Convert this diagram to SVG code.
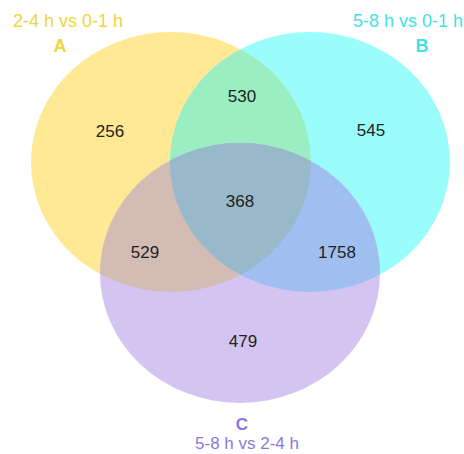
<svg xmlns="http://www.w3.org/2000/svg" width="464" height="454" viewBox="0 0 464 454">
<style>
.n{font-family:"Liberation Sans",Arial,sans-serif;font-size:17px;fill:#222;text-anchor:middle}
.l{font-family:"Liberation Sans",Arial,sans-serif;font-size:18px;text-anchor:middle}
.s{font-size:17px}
.b{font-weight:bold}
</style>
<defs>
<clipPath id="cA"><ellipse cx="171" cy="162" rx="140" ry="130"/></clipPath>
<clipPath id="cB"><ellipse cx="310" cy="162" rx="140" ry="130"/></clipPath>
</defs>
<rect width="464" height="454" fill="#fff"/>
<g id="setA"><ellipse cx="171" cy="162" rx="140" ry="130" fill="#FFE995"/></g>
<g id="setB"><ellipse cx="310" cy="162" rx="140" ry="130" fill="#9BFCFC"/></g>
<g id="setC"><ellipse cx="240" cy="273" rx="140" ry="130" fill="#D4C4F1"/></g>
<g id="AB"><ellipse cx="310" cy="162" rx="140" ry="130" fill="#9BEEC2" clip-path="url(#cA)"/></g>
<g id="AC"><ellipse cx="240" cy="273" rx="140" ry="130" fill="#D3BCB4" clip-path="url(#cA)"/></g>
<g id="BC"><ellipse cx="240" cy="273" rx="140" ry="130" fill="#9EBFEF" clip-path="url(#cB)"/></g>
<g id="ABC" clip-path="url(#cA)"><ellipse cx="240" cy="273" rx="140" ry="130" fill="#97B9C9" clip-path="url(#cB)"/></g>
<g id="connectors"></g>
<g id="labels">
<text class="l" x="68" y="27" fill="#F2D43C">2-4 h vs 0-1 h</text>
<text class="l b" x="60" y="52" fill="#F2D43C">A</text>
<text class="l" x="408" y="27" fill="#3FE3E6">5-8 h vs 0-1 h</text>
<text class="l b" x="422" y="52" fill="#3FE3E6">B</text>
<text class="l b s" x="242" y="430" fill="#8B7AD8">C</text>
<text class="l s" x="247" y="449" fill="#8B7AD8">5-8 h vs 2-4 h</text>
</g>
<g id="counts">
<text class="n" x="110" y="137">256</text>
<text class="n" x="242" y="102">530</text>
<text class="n" x="371" y="136">545</text>
<text class="n" x="240" y="207">368</text>
<text class="n" x="145" y="258">529</text>
<text class="n" x="337" y="258">1758</text>
<text class="n" x="243" y="347">479</text>
</g>
</svg>
